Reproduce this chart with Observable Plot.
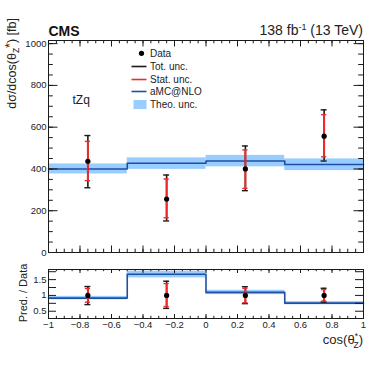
<!DOCTYPE html>
<html><head><meta charset="utf-8">
<script src="https://cdn.jsdelivr.net/npm/d3@7"></script>
<script src="https://cdn.jsdelivr.net/npm/@observablehq/plot@0.6"></script>
<style>
body{margin:0;background:#fff;}
#chart{position:relative;width:374px;height:367px;font-family:"Liberation Sans",Arial,sans-serif;background:#fff;}
#chart svg{position:absolute;left:0;}
</style></head><body><div id="chart"></div>
<script>
// ---- data ----
const binLo = [-1, -0.5, 0, 0.5];
const binHi = [-0.5, 0, 0.5, 1];
const binCenter = [-0.75, -0.25, 0.25, 0.75];
const dataVal = [437, 256, 400, 557];
const totLo = [310, 151, 296, 438];
const totHi = [560, 371, 510, 683];
const statLo = [344, 166, 307, 458];
const statHi = [532, 352, 491, 660];
const pred = [400, 427, 438, 421];
const theoLo = [376, 398, 410, 392];
const theoHi = [424, 453, 465, 448];
const xTicks = [-1, -0.8, -0.6, -0.4, -0.2, 0, 0.2, 0.4, 0.6, 0.8, 1];
const yTicksTop = [0, 200, 400, 600, 800, 1000];
const yTicksRatio = [0.5, 1, 1.5];
const legendLabels = ["Data", "Tot. unc.", "Stat. unc.", "aMC@NLO", "Theo. unc."];

// ---- derived tables ----
const rows = binCenter.map((c, i) => ({
  lo: binLo[i], hi: binHi[i], c,
  v: dataVal[i], tl: totLo[i], th: totHi[i], sl: statLo[i], sh: statHi[i],
  p: pred[i], bl: theoLo[i], bh: theoHi[i]
}));
const ratioRows = rows.map(r => ({
  lo: r.lo, hi: r.hi, c: r.c, v: 1,
  tl: r.tl / r.v, th: r.th / r.v, sl: r.sl / r.v, sh: r.sh / r.v,
  p: r.p / r.v, bl: r.bl / r.v, bh: r.bh / r.v
}));
const stepOf = rs => [...rs.map(r => ({x: r.lo, y: r.p})), {x: rs[rs.length - 1].hi, y: rs[rs.length - 1].p}];

const FONT = '"Liberation Sans", Arial, sans-serif';
const W = 374, ML = 48, MR = 11;
const BLUE = "#1f4fa3", BAND = "#99ccff", RED = "#ee2a2a", BLK = "#1a1a1a";

const xMinor = d3.range(-1, 1.0001, 0.05).map(v => +v.toFixed(2));
const xMajor = xTicks;

function frameTicks(plotW, plotH, xMaj, xMin, yMaj, yMin, lx, lxm, ly, lym) {
  return [
    Plot.tickX(xMaj, {x: d => d, insetTop: plotH - lx, stroke: BLK}),
    Plot.tickX(xMaj, {x: d => d, insetBottom: plotH - lx, stroke: BLK}),
    Plot.tickX(xMin, {x: d => d, insetTop: plotH - lxm, stroke: BLK}),
    Plot.tickX(xMin, {x: d => d, insetBottom: plotH - lxm, stroke: BLK}),
    Plot.tickY(yMaj, {y: d => d, insetRight: plotW - ly, stroke: BLK}),
    Plot.tickY(yMaj, {y: d => d, insetLeft: plotW - ly, stroke: BLK}),
    Plot.tickY(yMin, {y: d => d, insetRight: plotW - lym, stroke: BLK}),
    Plot.tickY(yMin, {y: d => d, insetLeft: plotW - lym, stroke: BLK})
  ];
}

function dataMarks(rs, capTot, capStat) {
  return [
    Plot.rect(rs, {x1: "lo", x2: "hi", y1: "bl", y2: "bh", fill: BAND}),
    Plot.line(stepOf(rs), {x: "x", y: "y", curve: "step-after", stroke: BLUE, strokeWidth: 1.6}),
    Plot.ruleX(rs, {x: "c", y1: "tl", y2: "th", stroke: BLK, strokeWidth: 1.6}),
    Plot.ruleY(rs, {y: "tl", x1: "c", x2: "c", insetLeft: -capTot, insetRight: -capTot, stroke: BLK, strokeWidth: 1.4}),
    Plot.ruleY(rs, {y: "th", x1: "c", x2: "c", insetLeft: -capTot, insetRight: -capTot, stroke: BLK, strokeWidth: 1.4}),
    Plot.ruleX(rs, {x: "c", y1: "sl", y2: "sh", stroke: RED, strokeWidth: 2}),
    Plot.ruleY(rs, {y: "sl", x1: "c", x2: "c", insetLeft: -capStat, insetRight: -capStat, stroke: RED, strokeWidth: 1.4}),
    Plot.ruleY(rs, {y: "sh", x1: "c", x2: "c", insetLeft: -capStat, insetRight: -capStat, stroke: RED, strokeWidth: 1.4}),
    Plot.dot(rs, {x: "c", y: "v", r: 2.6, fill: "black", stroke: "none"})
  ];
}

// ---- top panel ----
const topH = 260, topMT = 40, topMB = 8;
const topPlot = Plot.plot({
  width: W, height: topH,
  marginTop: topMT, marginBottom: topMB, marginLeft: ML, marginRight: MR,
  style: {fontFamily: FONT, fontSize: "9.5px", background: "transparent", overflow: "visible", color: "#222"},
  x: {domain: [-1, 1]},
  y: {domain: [0, 1015]},
  marks: [
    ...dataMarks(rows, 3, 2.6),
    ...frameTicks(W - ML - MR, topH - topMT - topMB, xMajor, xMinor, yTicksTop, d3.range(0, 1001, 50), 6.5, 3.3, 9.5, 4.8),
    Plot.frame({stroke: BLK, strokeWidth: 1}),
    Plot.axisX({ticks: [], label: null, tickSize: 0}),
    Plot.axisY({ticks: yTicksTop, tickSize: 0, tickPadding: 2, label: null, tickFormat: d3.format("d"), fill: "#222"}),
    Plot.text(["tZq"], {frameAnchor: "top-left", dx: 24, dy: 63, text: d => d, fontSize: 12, textAnchor: "start", lineAnchor: "bottom", fill: "#222"}),
    Plot.text(["CMS"], {frameAnchor: "top-left", dx: 0, dy: -5, text: d => d, fontSize: 14, fontWeight: "bold", textAnchor: "start", lineAnchor: "bottom", fill: "#111"})
  ]
});

// ---- ratio panel ----
const botTop = 260, botH = 107, botMT = 9, botMB = 49;
const botPlot = Plot.plot({
  width: W, height: botH,
  marginTop: botMT, marginBottom: botMB, marginLeft: ML, marginRight: MR,
  style: {fontFamily: FONT, fontSize: "9.5px", background: "transparent", overflow: "visible", color: "#222"},
  x: {domain: [-1, 1]},
  y: {domain: [0.27, 1.82]},
  marks: [
    ...dataMarks(ratioRows, 3, 2.6),
    ...frameTicks(W - ML - MR, botH - botMT - botMB, xMajor, xMinor, [0.5, 0.75, 1, 1.25, 1.5, 1.75], [], 4, 2.2, 8, 4),
    Plot.frame({stroke: BLK, strokeWidth: 1}),
    Plot.axisX({ticks: xTicks, tickSize: 0, tickPadding: 3, label: null, tickFormat: d3.format("~g"), fill: "#222"}),
    Plot.axisY({ticks: yTicksRatio, tickSize: 0, tickPadding: 2, label: null, tickFormat: d3.format("~g"), fill: "#222"})
  ]
});

const root = document.getElementById("chart");
topPlot.style.top = "0px";
botPlot.style.top = botTop + "px";
root.appendChild(topPlot);
root.appendChild(botPlot);

// ---- rich text annotations and legend ----
const ts = d3.select(topPlot);
const lumi = ts.append("text").attr("x", W - MR).attr("y", 35).attr("text-anchor", "end")
  .attr("font-family", FONT).attr("font-size", 14).attr("fill", "#222");
lumi.append("tspan").text("138 fb");
lumi.append("tspan").attr("font-size", 9).attr("dy", -5).text("-1");
lumi.append("tspan").attr("dy", 5).text(" (13 TeV)");

const yl = ts.append("text").attr("transform", "translate(16,18) rotate(-90)").attr("text-anchor", "end")
  .attr("font-family", FONT).attr("font-size", 12.5).attr("fill", "#222");
yl.append("tspan").text("dσ/dcos(θ");
yl.append("tspan").attr("font-size", 8.5).attr("dy", 3).text("Z");
yl.append("tspan").attr("dy", -5).text("*");
yl.append("tspan").attr("dy", 2).text(") [fb]");

const lg = ts.append("g").attr("font-family", FONT).attr("font-size", 10).attr("fill", "#222").attr("text-anchor", "start");
const rowsY = [53.3, 66.5, 79.5, 91.5, 104.5];
lg.append("circle").attr("cx", 141.5).attr("cy", rowsY[0]).attr("r", 2.6).attr("fill", "black");
[[BLK, 1], [RED, 2], [BLUE, 3]].forEach(([c, i]) => {
  lg.append("line").attr("x1", 131.5).attr("x2", 146.5).attr("y1", rowsY[i]).attr("y2", rowsY[i]).attr("stroke", c).attr("stroke-width", 1.6);
});
lg.append("rect").attr("x", 133.5).attr("y", rowsY[4] - 4.5).attr("width", 13).attr("height", 9).attr("fill", BAND);
legendLabels.forEach((t, i) => {
  lg.append("text").attr("x", 150).attr("y", rowsY[i]).attr("dy", "0.35em").attr("text-anchor", "start").text(t);
});

const bs = d3.select(botPlot);
bs.append("text").attr("transform", "translate(27,33) rotate(-90)").attr("text-anchor", "middle")
  .attr("font-family", FONT).attr("font-size", 11).attr("fill", "#222").text("Pred. / Data");
const xl = bs.append("text").attr("x", W - MR).attr("y", 344 - botTop).attr("text-anchor", "end")
  .attr("font-family", FONT).attr("font-size", 13).attr("fill", "#222");
xl.append("tspan").text("cos(θ");
xl.append("tspan").attr("font-size", 8.5).attr("dy", -5).text("*");
xl.append("tspan").attr("font-size", 8.5).attr("dx", -4.5).attr("dy", 9).text("Z");
xl.append("tspan").attr("dy", -4).text(")");
</script></body></html>
